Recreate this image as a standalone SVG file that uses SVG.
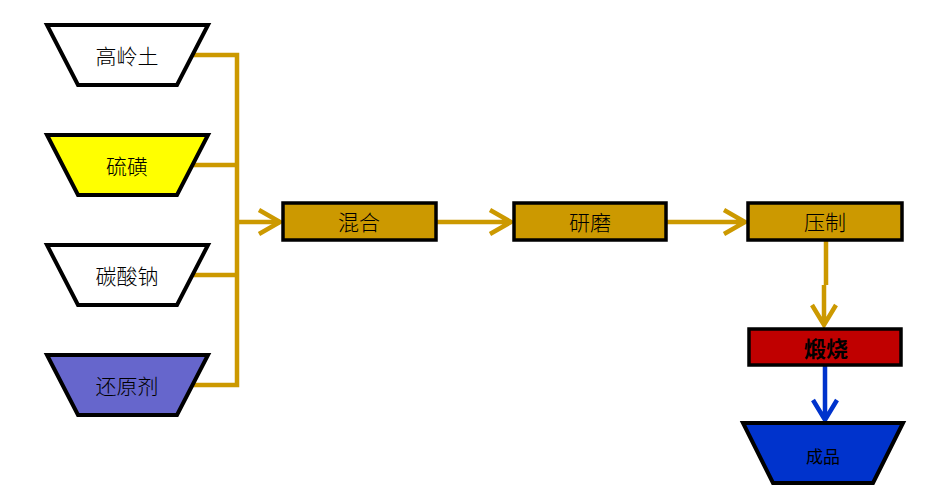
<svg xmlns="http://www.w3.org/2000/svg" width="952" height="501" viewBox="0 0 952 501">
<style>
.trap{stroke:#000;stroke-width:4;stroke-linejoin:miter}
.box{stroke:#000;stroke-width:3.5}
.t{font-family:"Noto Sans CJK SC","Noto Sans",sans-serif;font-size:21px;font-weight:300;fill:#000;text-anchor:middle;dominant-baseline:central}
.gold{stroke:#cc9900;stroke-width:4.5;fill:none}
.blue{stroke:#0033cc;stroke-width:4.5;fill:none}
</style>
<rect width="952" height="501" fill="#fff"/>
<g id="connectors">
<path class="gold" d="M192,55 H237 V385 H177 M192,165 H237 M192,275 H237 M237,222 H280"/>
<path class="gold" d="M259,210 L280,222 L259,234"/>
<path class="gold" d="M437,222 H511 M490,210 L511,222 L490,234"/>
<path class="gold" d="M667,222 H745 M724,210 L745,222 L724,234"/>
<path class="gold" d="M826,241 V285 M824,285 V325 M812,305 L824,325 L836,305"/>
<path class="blue" d="M825,366 V420 M813,400 L825,420 L837,400"/>
</g>
<g id="n1"><polygon class="trap" fill="#fff" points="47,25 208,25 177,85 78,85"/><text class="t" x="127" y="55">高岭土</text></g>
<g id="n2"><polygon class="trap" fill="#ffff00" points="47,135 208,135 177,195 78,195"/><text class="t" x="127" y="165">硫磺</text></g>
<g id="n3"><polygon class="trap" fill="#fff" points="47,245 208,245 177,305 78,305"/><text class="t" x="127" y="275">碳酸钠</text></g>
<g id="n4"><polygon class="trap" fill="#6666cc" points="47,355 208,355 177,415 78,415"/><text class="t" x="127" y="385">还原剂</text></g>
<g id="n5"><rect class="box" fill="#cc9900" x="283" y="203" width="153" height="37"/><text class="t" x="359" y="221">混合</text></g>
<g id="n6"><rect class="box" fill="#cc9900" x="514" y="203" width="152" height="37"/><text class="t" x="590" y="221">研磨</text></g>
<g id="n7"><rect class="box" fill="#cc9900" x="748" y="203" width="154" height="37"/><text class="t" x="825" y="221">压制</text></g>
<g id="n8"><rect class="box" fill="#c00000" x="749" y="329" width="152" height="36"/><text class="t" x="826" y="347" style="font-size:22px;font-weight:bold">煅烧</text></g>
<g id="n9"><polygon class="trap" fill="#0033cc" points="743,423 903,423 873,483 773,483"/><text class="t" x="823" y="455" style="font-size:17px;font-weight:400">成品</text></g>
</svg>
